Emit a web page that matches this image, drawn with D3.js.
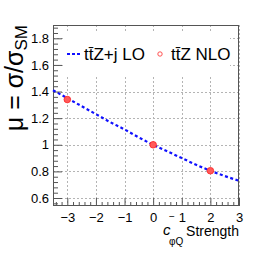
<!DOCTYPE html>
<html>
<head>
<meta charset="utf-8">
<script src="https://cdn.jsdelivr.net/npm/d3@7"></script>
<style>
  html, body { margin: 0; padding: 0; background: #fff; }
  svg text { font-family: "Liberation Sans", Arial, sans-serif; fill: #000; }
</style>
</head>
<body>
<svg id="chart" width="266" height="259"></svg>
<script>
// values
const curveX = [-3.5, -3, -2.5, -2, -1.5, -1, -0.5, 0, 0.5, 1, 1.5, 2, 2.5, 3];
const curveY = [1.41, 1.35, 1.29, 1.23, 1.17, 1.115, 1.055, 1.0, 0.95, 0.9, 0.85, 0.805, 0.765, 0.73];
const nloX = [-3, 0, 2];
const nloY = [1.34, 1.0, 0.805];
const xTicks = [-3, -2, -1, 0, 1, 2, 3];
const yTicks = [0.6, 0.8, 1, 1.2, 1.4, 1.6, 1.8];
const legendLabels = ["tt\u0304Z+j LO", "tt\u0304Z NLO"];

const svg = d3.select('#chart');
const L = 53, R = 239, T = 25, B = 206;

const x = d3.scaleLinear().domain([-3.5, 3]).range([L, R]);
const y = d3.scaleLinear().domain([0.54, 1.9]).range([B, T]);

// grid
const grid = svg.append('g').attr('stroke', '#b4b4b4').attr('stroke-dasharray', '2,2').attr('stroke-width', 1);
grid.selectAll('.gx').data(xTicks).join('line')
  .attr('x1', d => Math.round(x(d)) + 0.5).attr('x2', d => Math.round(x(d)) + 0.5)
  .attr('y1', T).attr('y2', B);
grid.selectAll('.gy').data(yTicks).join('line')
  .attr('y1', d => Math.round(y(d)) + 0.5).attr('y2', d => Math.round(y(d)) + 0.5)
  .attr('x1', L).attr('x2', R);

// legend box covers grid
svg.append('rect').attr('x', 63).attr('y', 31).attr('width', 167).attr('height', 46).attr('fill', '#fff');

// axes, ticks pointing inside
const xMinor = d3.range(-3.4, 3.01, 0.2).filter(v => Math.abs(v - Math.round(v)) > 1e-6);
const yMinor = d3.range(0.56, 1.9, 0.04).filter(v => Math.abs(v * 5 - Math.round(v * 5)) > 1e-6);

const xAxis = svg.append('g').attr('transform', `translate(0,${B})`)
  .call(d3.axisBottom(x).tickValues(xTicks).tickSize(-8).tickPadding(7)
    .tickFormat(d => d < 0 ? '\u2212' + Math.abs(d) : d));
xAxis.select('.domain').remove();
xAxis.selectAll('text').attr('font-size', 13).attr('font-family', 'Liberation Sans, Arial, sans-serif');
xAxis.selectAll('line').attr('stroke', '#555');
svg.append('g').attr('transform', `translate(0,${B})`)
  .call(d3.axisBottom(x).tickValues(xMinor).tickSize(-4).tickFormat(''))
  .call(g => g.select('.domain').remove())
  .selectAll('line').attr('stroke', '#555');

const yAxis = svg.append('g').attr('transform', `translate(${L},0)`)
  .call(d3.axisLeft(y).tickValues(yTicks).tickSize(-9).tickPadding(4)
    .tickFormat(d => d3.format('')(+d.toFixed(1))));
yAxis.select('.domain').remove();
yAxis.selectAll('text').attr('font-size', 13).attr('font-family', 'Liberation Sans, Arial, sans-serif');
yAxis.selectAll('line').attr('stroke', '#555');
svg.append('g').attr('transform', `translate(${L},0)`)
  .call(d3.axisLeft(y).tickValues(yMinor).tickSize(-5).tickFormat(''))
  .call(g => g.select('.domain').remove())
  .selectAll('line').attr('stroke', '#555');

// frame
svg.append('rect').attr('x', L + 0.5).attr('y', T + 0.5).attr('width', R - L - 1).attr('height', B - T - 1)
  .attr('fill', 'none').attr('stroke', '#555').attr('stroke-width', 1);

// curve
const line = d3.line().x((d, i) => x(curveX[i])).y(d => y(d)).curve(d3.curveMonotoneX);
svg.append('path').datum(curveY).attr('d', line)
  .attr('fill', 'none').attr('stroke', '#1010ff').attr('stroke-width', 2.2).attr('stroke-dasharray', '3,2.5');

// NLO points
svg.selectAll('.nlo').data(nloY).join('circle')
  .attr('cx', (d, i) => x(nloX[i])).attr('cy', d => y(d)).attr('r', 3.3)
  .attr('fill', '#ff5a5a').attr('stroke', '#ff2020').attr('stroke-width', 0.8);

// legend
svg.append('line').attr('x1', 67).attr('x2', 82).attr('y1', 54).attr('y2', 54)
  .attr('stroke', '#1010ff').attr('stroke-width', 2.2).attr('stroke-dasharray', '3,2');
svg.append('text').attr('x', 84).attr('y', 60).attr('font-size', 17).text(legendLabels[0]);
svg.append('circle').attr('cx', 160).attr('cy', 54).attr('r', 2.2)
  .attr('fill', 'none').attr('stroke', '#ff4040').attr('stroke-width', 0.9);
svg.append('text').attr('x', 171).attr('y', 60).attr('font-size', 17).text(legendLabels[1]);

// y title
const yt = svg.append('text').attr('transform', 'translate(23,25) rotate(-90)')
  .attr('text-anchor', 'end').attr('font-size', 25);
yt.append('tspan').text('\u03bc = \u03c3/\u03c3');
yt.append('tspan').attr('font-size', 17).attr('dy', 4).text('SM');

// x title
svg.append('text').attr('x', 239).attr('y', 236).attr('text-anchor', 'end').attr('font-size', 14).text('Strength');
svg.append('text').attr('x', 163).attr('y', 235).attr('font-size', 15).attr('font-style', 'italic').text('c');
svg.append('text').attr('x', 169).attr('y', 220).attr('font-size', 10).text('\u2212');
svg.append('text').attr('x', 169).attr('y', 245).attr('font-size', 10).text('\u03c6Q');
</script>
</body>
</html>
